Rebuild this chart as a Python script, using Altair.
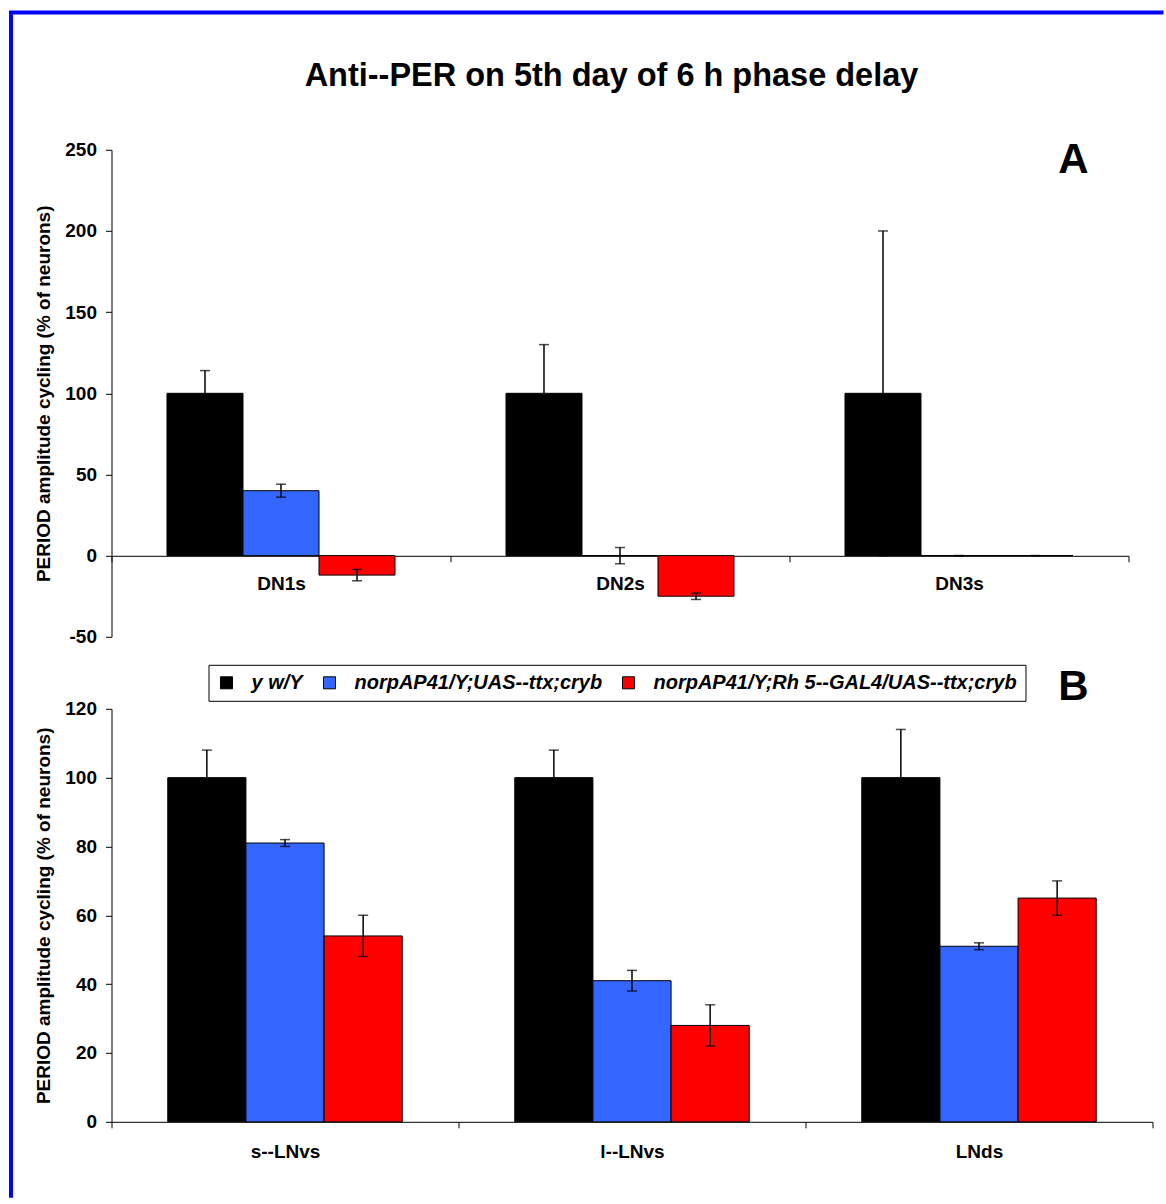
import altair as alt
import pandas as pd

FONT = "Liberation Sans"

genotypes = ["y w/Y", "norpAP41/Y;UAS--ttx;cryb", "norpAP41/Y;Rh 5--GAL4/UAS--ttx;cryb"]
genotype_colors = ["#000000", "#3366FF", "#FF0000"]

# Panel A: dorsal neurons
dn_groups = ["DN1s", "DN2s", "DN3s"]
dn_yw = [100, 100, 100]
dn_yw_err = [14, 30, 100]
dn_uas = [40, 0, 0]
dn_uas_err = [4, 5, 0]
dn_rh5 = [-12, -25, 0]
dn_rh5_err = [3.5, 2, 0]

# Panel B: lateral neurons
ln_groups = ["s--LNvs", "l--LNvs", "LNds"]
ln_yw = [100, 100, 100]
ln_yw_err = [8, 8, 14]
ln_uas = [81, 41, 51]
ln_uas_err = [1, 3, 1]
ln_rh5 = [54, 28, 65]
ln_rh5_err = [6, 6, 5]

main_title = ["Anti--PER on 5th day of 6 h phase delay"]
panel_letters = ["A", "B"]
y_title = "PERIOD amplitude cycling (% of neurons)"


def long_table(groups, series, errors):
    rows = []
    for g_name, vals, errs in zip(genotypes, series, errors):
        for grp, v, e in zip(groups, vals, errs):
            rows.append({"group": grp, "genotype": g_name, "value": v,
                         "lo": v - e, "hi": v + e})
    return pd.DataFrame(rows)


dn_df = long_table(dn_groups, [dn_yw, dn_uas, dn_rh5], [dn_yw_err, dn_uas_err, dn_rh5_err])
ln_df = long_table(ln_groups, [ln_yw, ln_uas, ln_rh5], [ln_yw_err, ln_uas_err, ln_rh5_err])


def bar_panel(df, groups, y_domain, y_ticks, x_axis, legend, outer_pad):
    base = alt.Chart(df)
    x_enc = alt.X("group:N", sort=groups,
                  scale=alt.Scale(paddingInner=0, paddingOuter=0), axis=x_axis)
    xo_enc = alt.XOffset("genotype:N", sort=genotypes,
                         scale=alt.Scale(paddingInner=0, paddingOuter=outer_pad))
    y_scale = alt.Scale(domain=y_domain, nice=False)
    bars = base.mark_bar(stroke="black", strokeWidth=1).encode(
        x=x_enc,
        xOffset=xo_enc,
        y=alt.Y("value:Q", scale=y_scale,
                axis=alt.Axis(values=y_ticks, title=y_title, titlePadding=11,
                              labelPadding=9, labelExpr="'' + datum.value")),
        color=alt.Color("genotype:N", sort=genotypes,
                        scale=alt.Scale(domain=genotypes, range=genotype_colors),
                        legend=legend),
    )
    whiskers = base.mark_rule(color="black", strokeWidth=1.5).encode(
        x=x_enc, xOffset=xo_enc, y="lo:Q", y2="hi:Q")
    cap_hi = base.mark_tick(color="black", size=10, thickness=1.5, orient="horizontal").encode(
        x=x_enc, xOffset=xo_enc, y="hi:Q")
    cap_lo = base.mark_tick(color="black", size=10, thickness=1.5, orient="horizontal").encode(
        x=x_enc, xOffset=xo_enc, y="lo:Q")
    return bars, whiskers, cap_hi, cap_lo


axis_a = alt.Axis(title=None, labelAngle=0, tickBand="extent", offset=-81,
                  labelPadding=13, tickSize=6)
axis_b = alt.Axis(title=None, labelAngle=0, tickBand="extent",
                  labelPadding=15, tickSize=6)

legend_b = alt.Legend(
    orient="none", legendX=97, legendY=-44, direction="horizontal", title=None,
    strokeColor="black", fillColor="white", padding=8,
    symbolType="square", symbolSize=144, symbolStrokeColor="black",
    symbolStrokeWidth=1, symbolOpacity=1,
    labelFontSize=20, labelFontStyle="italic", labelFontWeight="bold",
    labelColor="black", labelOffset=15, columnPadding=16, labelLimit=0,
)

a_layers = bar_panel(dn_df, dn_groups, [-50, 250], [-50, 0, 50, 100, 150, 200, 250],
                     axis_a, None, 0.73)
b_layers = bar_panel(ln_df, ln_groups, [0, 120], [0, 20, 40, 60, 80, 100, 120],
                     axis_b, legend_b, 0.72)

title_text = alt.Chart(pd.DataFrame({"t": main_title})).mark_text(
    fontSize=32.5, fontWeight="bold", align="center", baseline="alphabetic", color="black"
).encode(x=alt.value(500), y=alt.value(-64), text="t:N")

letter_a = alt.Chart(pd.DataFrame({"t": panel_letters[:1]})).mark_text(
    fontSize=42, fontWeight="bold", align="center", baseline="alphabetic", color="black"
).encode(x=alt.value(962), y=alt.value(23), text="t:N")

letter_b = alt.Chart(pd.DataFrame({"t": panel_letters[1:]})).mark_text(
    fontSize=42, fontWeight="bold", align="center", baseline="alphabetic", color="black"
).encode(x=alt.value(962), y=alt.value(-9), text="t:N")

# blue frame around the figure (left and top edges)
frame_src = pd.DataFrame({"edge": ["frame"]})
frame_left = alt.Chart(frame_src).mark_rule(color="#0000FF", strokeWidth=4).encode(
    x=alt.value(-100.5), y=alt.value(-137.2), y2=alt.value(1048))
frame_top = alt.Chart(frame_src).mark_rule(color="#0000FF", strokeWidth=4).encode(
    x=alt.value(-102.5), x2=alt.value(1052), y=alt.value(-137.2))

panel_a = alt.layer(*a_layers, title_text, letter_a, frame_left, frame_top).properties(
    width=1017, height=487)
panel_b = alt.layer(*b_layers, letter_b).properties(width=1041, height=413)

chart = alt.vconcat(panel_a, panel_b, spacing=72, bounds="flush").resolve_scale(
    color="independent", xOffset="independent"
).resolve_legend(color="independent").properties(
    padding={"left": 6.5, "top": 9.8, "right": 0, "bottom": 0},
    background="white",
).configure(font=FONT).configure_view(stroke=None).configure_axis(
    labelFontSize=19, labelFontWeight="bold", labelColor="black", labelFont=FONT,
    titleFontSize=19, titleFontWeight="bold", titleColor="black", titleFont=FONT,
    domainColor="black", tickColor="black", domainWidth=1, tickWidth=1,
    tickSize=6, grid=False,
).configure_legend(labelFont=FONT)

chart.save("out.html", embed_options={"renderer": "svg", "actions": False})
